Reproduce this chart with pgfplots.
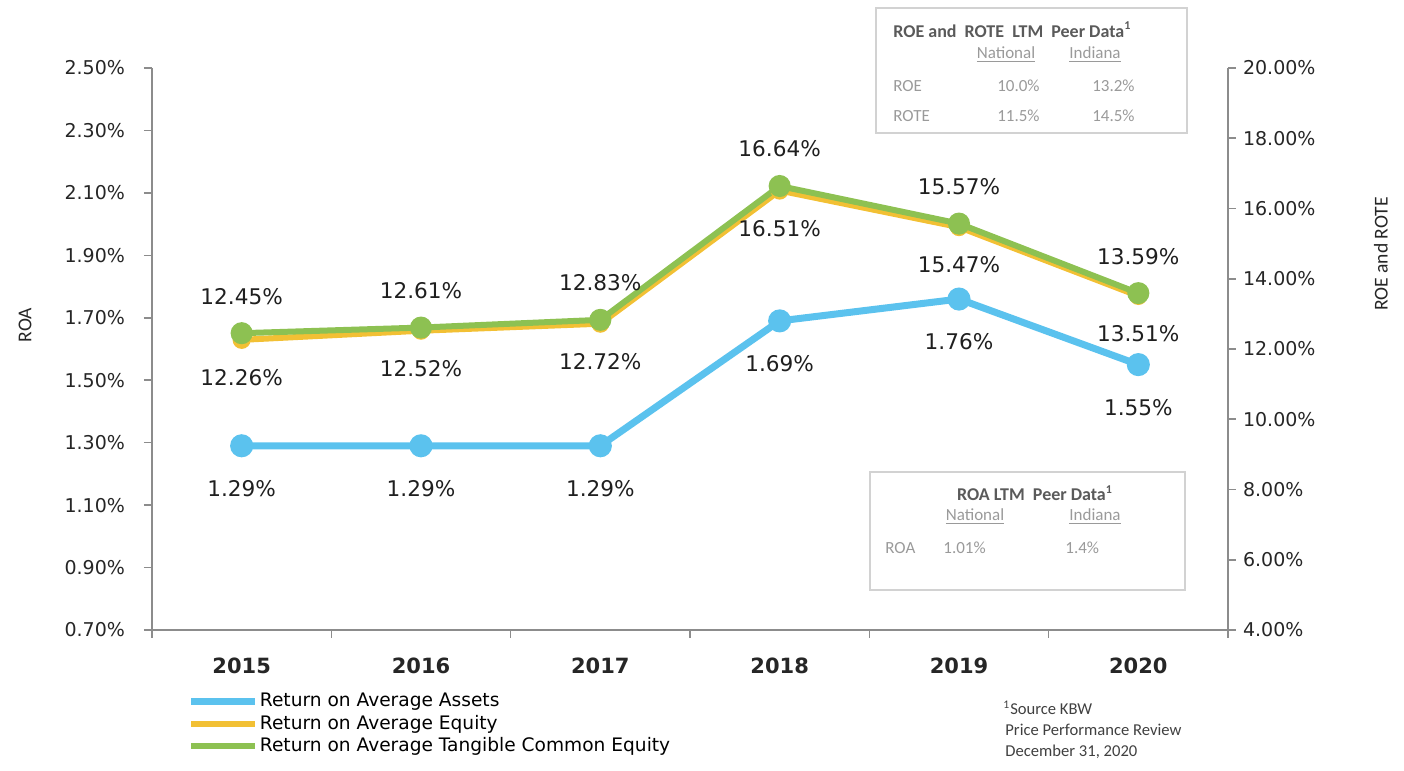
\documentclass[border=0pt]{standalone}
\usepackage{fontspec}
\setmainfont{DejaVu Sans}
\newfontfamily\calfont{Carlito}
\usepackage{pgfplots}
\pgfplotsset{compat=1.18}

\definecolor{roa}{HTML}{5BC2EE}
\definecolor{roe}{HTML}{F2C034}
\definecolor{rote}{HTML}{8DC152}
\definecolor{axgray}{HTML}{8C8C8C}
\definecolor{boxgray}{HTML}{D2D2D2}
\definecolor{txtdark}{HTML}{5A5A5A}
\definecolor{txtlight}{HTML}{9A9A9A}

\pgfplotsset{
  base/.style={
    at={(76pt,70.5pt)}, anchor=south west,
    scale only axis, width=538pt, height=281pt,
    xmin=-0.5, xmax=5.5, clip=false,
    axis line style={axgray, line width=0.8pt},
    tick align=outside, major tick length=4pt,
    every tick/.style={axgray, line width=0.8pt},
    /pgf/number format/assume math mode=true,
    tick label style={font=\fontsize{9.5}{11}\selectfont, text=black!85},
    yticklabel={\pgfmathprintnumber[fixed,fixed zerofill,precision=2]{\tick}\%},
  },
  lbl/.style={nodes near coords={\pgfmathprintnumber[fixed,fixed zerofill,precision=2]{\pgfplotspointmeta}\%},
    point meta=y,
    every node near coord/.style={anchor=center, yshift=#1, text=black!88,
      font=\fontsize{10.8}{12}\selectfont}},
}

\begin{document}
\begin{tikzpicture}
\useasboundingbox (0,0) rectangle (702pt,385.5pt);

% left axis: ROA
\begin{axis}[base,
  axis x line*=bottom, axis y line*=left,
  ymin=0.7, ymax=2.5,
  ytick={0.7,0.9,1.1,1.3,1.5,1.7,1.9,2.1,2.3,2.5},
  yticklabel style={xshift=-6pt},
  xtick={-0.5,0.5,1.5,2.5,3.5,4.5,5.5},
  x tick label as interval,
  xticklabels={2015,2016,2017,2018,2019,2020},
  xticklabel style={font=\bfseries\fontsize{10.5}{12}\selectfont, yshift=-6.5pt},
]
\addplot[roa, line width=3.5pt, mark=*, mark size=4pt, lbl=-21.5pt]
  coordinates {(0,1.29) (1,1.29) (2,1.29) (3,1.69) (4,1.76) (5,1.55)};
\end{axis}

% right axis: ROE and ROTE
\begin{axis}[base,
  axis x line=none, axis y line*=right,
  ymin=4, ymax=20,
  ytick={4,6,8,10,12,14,16,18,20},
  legend style={at={(0.033,-0.105)}, anchor=north west, draw=none, fill=none,
    font=\fontsize{9.3}{11}\selectfont, row sep=-1.5pt,
    inner xsep=0pt, inner ysep=0pt, nodes={inner xsep=0.5pt}},
  legend cell align=left,
  legend image code/.code={\draw[#1] (0pt,0pt) -- (32pt,0pt);},
]
\addlegendimage{roa, line width=3.5pt}
\addlegendentry{Return on Average Assets}
\addplot[roe, line width=3pt, mark=*, mark size=3pt, lbl=-19pt]
  coordinates {(0,12.26) (1,12.52) (2,12.72) (3,16.51) (4,15.47) (5,13.51)};
\addlegendentry{Return on Average Equity}
\addplot[rote, line width=3pt, mark=*, mark size=4pt, lbl=18.5pt]
  coordinates {(0,12.45) (1,12.61) (2,12.83) (3,16.64) (4,15.57) (5,13.59)};
\addlegendentry{Return on Average Tangible Common Equity}
\end{axis}

% annotations, positioned in reference pixel units (origin top left)
\begin{scope}[x=0.5pt, y=-0.5pt, shift={(0pt,385.5pt)}]
  \node[rotate=90, font=\calfont\fontsize{9.8}{11}\selectfont, text=black!85] at (25,325) {ROA};
  \node[rotate=90, font=\calfont\fontsize{9.8}{11}\selectfont, text=black!85] at (1381,254) {ROE and ROTE};

  \draw[boxgray, line width=0.6pt] (876,8) rectangle (1187,133);
  \begin{scope}[every node/.style={font=\calfont\fontsize{8.5}{10}\selectfont, inner sep=0pt}]
    \node[anchor=west, text=txtdark, font=\calfont\bfseries\fontsize{9}{10}\selectfont] at (893,30) {ROE and\ \ ROTE\ \ LTM\ \ Peer Data\textsuperscript{1}};
    \node[text=txtlight] at (1006,55) {\underline{National}};
    \node[text=txtlight] at (1095,55) {\underline{Indiana}};
    \node[anchor=west, text=txtlight] at (893,86) {ROE};
    \node[anchor=east, text=txtlight] at (1040,86) {10.0\%};
    \node[anchor=east, text=txtlight] at (1135,86) {13.2\%};
    \node[anchor=west, text=txtlight] at (893,116) {ROTE};
    \node[anchor=east, text=txtlight] at (1040,116) {11.5\%};
    \node[anchor=east, text=txtlight] at (1135,116) {14.5\%};
  \end{scope}

  \draw[boxgray, line width=0.6pt] (870,472) rectangle (1185,590);
  \begin{scope}[every node/.style={font=\calfont\fontsize{8.5}{10}\selectfont, inner sep=0pt}]
    \node[text=txtdark, font=\calfont\bfseries\fontsize{9}{10}\selectfont] at (1035,493) {ROA LTM\ \ Peer Data\textsuperscript{1}};
    \node[text=txtlight] at (975,517) {\underline{National}};
    \node[text=txtlight] at (1095,517) {\underline{Indiana}};
    \node[anchor=west, text=txtlight] at (885,548) {ROA};
    \node[anchor=west, text=txtlight] at (943,548) {1.01\%};
    \node[anchor=west, text=txtlight] at (1065,548) {1.4\%};
  \end{scope}

  \begin{scope}[every node/.style={font=\calfont\fontsize{8.3}{10}\selectfont, inner sep=0pt, anchor=west, text=black!75}]
    \node at (1003,708) {\textsuperscript{1}Source KBW};
    \node at (1005,730) {Price Performance Review};
    \node at (1005,752) {December 31, 2020};
  \end{scope}
\end{scope}
\end{tikzpicture}
\end{document}
